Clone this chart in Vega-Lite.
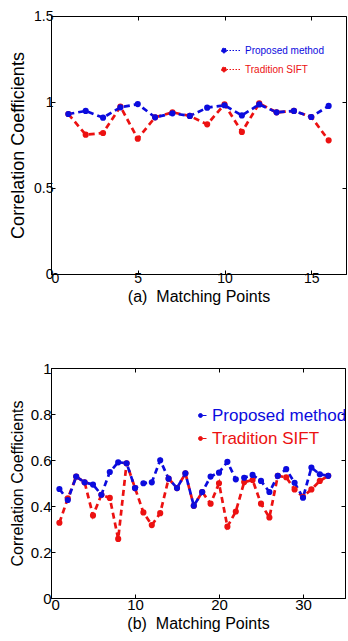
{
  "$schema": "https://vega.github.io/schema/vega-lite/v6.json",
  "padding": {"left": 8, "top": 8, "right": 0, "bottom": 0},
  "bounds": "flush",
  "spacing": 94,
  "config": {
    "font": "Liberation Sans",
    "view": {"stroke": "black", "strokeWidth": 1},
    "axis": {
      "grid": false,
      "domainColor": "black",
      "tickColor": "black",
      "labelColor": "black",
      "titleColor": "black",
      "labelFont": "Liberation Sans",
      "titleFont": "Liberation Sans",
      "titleFontWeight": "normal",
      "tickSize": -4,
      "labelPadding": 2,
      "titlePadding": 2
    }
  },
  "datasets": {
    "a": [
      {"x": 1, "v": 0.930, "series": "Tradition SIFT"},
      {"x": 2, "v": 0.810, "series": "Tradition SIFT"},
      {"x": 3, "v": 0.820, "series": "Tradition SIFT"},
      {"x": 4, "v": 0.973, "series": "Tradition SIFT"},
      {"x": 5, "v": 0.787, "series": "Tradition SIFT"},
      {"x": 6, "v": 0.911, "series": "Tradition SIFT"},
      {"x": 7, "v": 0.940, "series": "Tradition SIFT"},
      {"x": 8, "v": 0.919, "series": "Tradition SIFT"},
      {"x": 9, "v": 0.870, "series": "Tradition SIFT"},
      {"x": 10, "v": 0.986, "series": "Tradition SIFT"},
      {"x": 11, "v": 0.826, "series": "Tradition SIFT"},
      {"x": 12, "v": 0.992, "series": "Tradition SIFT"},
      {"x": 13, "v": 0.940, "series": "Tradition SIFT"},
      {"x": 14, "v": 0.948, "series": "Tradition SIFT"},
      {"x": 15, "v": 0.913, "series": "Tradition SIFT"},
      {"x": 16, "v": 0.777, "series": "Tradition SIFT"},
      {"x": 1, "v": 0.930, "series": "Proposed method"},
      {"x": 2, "v": 0.948, "series": "Proposed method"},
      {"x": 3, "v": 0.909, "series": "Proposed method"},
      {"x": 4, "v": 0.969, "series": "Proposed method"},
      {"x": 5, "v": 0.988, "series": "Proposed method"},
      {"x": 6, "v": 0.911, "series": "Proposed method"},
      {"x": 7, "v": 0.934, "series": "Proposed method"},
      {"x": 8, "v": 0.919, "series": "Proposed method"},
      {"x": 9, "v": 0.967, "series": "Proposed method"},
      {"x": 10, "v": 0.981, "series": "Proposed method"},
      {"x": 11, "v": 0.922, "series": "Proposed method"},
      {"x": 12, "v": 0.986, "series": "Proposed method"},
      {"x": 13, "v": 0.940, "series": "Proposed method"},
      {"x": 14, "v": 0.948, "series": "Proposed method"},
      {"x": 15, "v": 0.913, "series": "Proposed method"},
      {"x": 16, "v": 0.977, "series": "Proposed method"}
    ],
    "b": [
      {"x": 1, "v": 0.327, "series": "Tradition SIFT"},
      {"x": 2, "v": 0.433, "series": "Tradition SIFT"},
      {"x": 3, "v": 0.528, "series": "Tradition SIFT"},
      {"x": 4, "v": 0.503, "series": "Tradition SIFT"},
      {"x": 5, "v": 0.359, "series": "Tradition SIFT"},
      {"x": 6, "v": 0.449, "series": "Tradition SIFT"},
      {"x": 7, "v": 0.435, "series": "Tradition SIFT"},
      {"x": 8, "v": 0.257, "series": "Tradition SIFT"},
      {"x": 9, "v": 0.586, "series": "Tradition SIFT"},
      {"x": 10, "v": 0.478, "series": "Tradition SIFT"},
      {"x": 11, "v": 0.372, "series": "Tradition SIFT"},
      {"x": 12, "v": 0.317, "series": "Tradition SIFT"},
      {"x": 13, "v": 0.369, "series": "Tradition SIFT"},
      {"x": 14, "v": 0.519, "series": "Tradition SIFT"},
      {"x": 15, "v": 0.478, "series": "Tradition SIFT"},
      {"x": 16, "v": 0.542, "series": "Tradition SIFT"},
      {"x": 17, "v": 0.401, "series": "Tradition SIFT"},
      {"x": 18, "v": 0.461, "series": "Tradition SIFT"},
      {"x": 19, "v": 0.410, "series": "Tradition SIFT"},
      {"x": 20, "v": 0.499, "series": "Tradition SIFT"},
      {"x": 21, "v": 0.310, "series": "Tradition SIFT"},
      {"x": 22, "v": 0.376, "series": "Tradition SIFT"},
      {"x": 23, "v": 0.504, "series": "Tradition SIFT"},
      {"x": 24, "v": 0.513, "series": "Tradition SIFT"},
      {"x": 25, "v": 0.410, "series": "Tradition SIFT"},
      {"x": 26, "v": 0.350, "series": "Tradition SIFT"},
      {"x": 27, "v": 0.531, "series": "Tradition SIFT"},
      {"x": 28, "v": 0.525, "series": "Tradition SIFT"},
      {"x": 29, "v": 0.472, "series": "Tradition SIFT"},
      {"x": 30, "v": 0.440, "series": "Tradition SIFT"},
      {"x": 31, "v": 0.472, "series": "Tradition SIFT"},
      {"x": 32, "v": 0.509, "series": "Tradition SIFT"},
      {"x": 33, "v": 0.531, "series": "Tradition SIFT"},
      {"x": 1, "v": 0.474, "series": "Proposed method"},
      {"x": 2, "v": 0.426, "series": "Proposed method"},
      {"x": 3, "v": 0.528, "series": "Proposed method"},
      {"x": 4, "v": 0.503, "series": "Proposed method"},
      {"x": 5, "v": 0.493, "series": "Proposed method"},
      {"x": 6, "v": 0.449, "series": "Proposed method"},
      {"x": 7, "v": 0.548, "series": "Proposed method"},
      {"x": 8, "v": 0.590, "series": "Proposed method"},
      {"x": 9, "v": 0.586, "series": "Proposed method"},
      {"x": 10, "v": 0.478, "series": "Proposed method"},
      {"x": 11, "v": 0.499, "series": "Proposed method"},
      {"x": 12, "v": 0.503, "series": "Proposed method"},
      {"x": 13, "v": 0.599, "series": "Proposed method"},
      {"x": 14, "v": 0.519, "series": "Proposed method"},
      {"x": 15, "v": 0.478, "series": "Proposed method"},
      {"x": 16, "v": 0.542, "series": "Proposed method"},
      {"x": 17, "v": 0.401, "series": "Proposed method"},
      {"x": 18, "v": 0.461, "series": "Proposed method"},
      {"x": 19, "v": 0.528, "series": "Proposed method"},
      {"x": 20, "v": 0.545, "series": "Proposed method"},
      {"x": 21, "v": 0.592, "series": "Proposed method"},
      {"x": 22, "v": 0.516, "series": "Proposed method"},
      {"x": 23, "v": 0.523, "series": "Proposed method"},
      {"x": 24, "v": 0.535, "series": "Proposed method"},
      {"x": 25, "v": 0.509, "series": "Proposed method"},
      {"x": 26, "v": 0.461, "series": "Proposed method"},
      {"x": 27, "v": 0.531, "series": "Proposed method"},
      {"x": 28, "v": 0.560, "series": "Proposed method"},
      {"x": 29, "v": 0.501, "series": "Proposed method"},
      {"x": 30, "v": 0.436, "series": "Proposed method"},
      {"x": 31, "v": 0.567, "series": "Proposed method"},
      {"x": 32, "v": 0.538, "series": "Proposed method"},
      {"x": 33, "v": 0.531, "series": "Proposed method"}
    ]
  },
  "resolve": {"scale": {"color": "independent"}, "legend": {"color": "independent"}},
  "vconcat": [
    {
      "width": 295,
      "height": 258,
      "data": {"name": "a"},
      "encoding": {
        "color": {"field": "series", "type": "nominal", "scale": {"domain": ["Proposed method", "Tradition SIFT"], "range": ["#0b0bde", "#ec1111"]},
          "legend": {
            "title": null, "orient": "none", "legendX": 170, "legendY": 29, "padding": 0,
            "symbolType": "M-1,0A0.5,0.5 0 1,0 0,0A0.5,0.5 0 1,0 -1,0Z M0,0L3,0",
            "symbolSize": 100, "symbolStrokeWidth": 1, "symbolDash": [1.5, 1.5],
            "labelFontSize": 10, "labelOffset": 13, "rowPadding": 8, "labelFont": "Liberation Sans",
            "encode": {
              "labels": {"update": {"fill": {"signal": "datum.label == 'Proposed method' ? '#0b0bde' : '#ec1111'"}}},
              "symbols": {"update": {"fill": {"signal": "datum.label == 'Proposed method' ? '#0b0bde' : '#ec1111'"}, "stroke": {"signal": "datum.label == 'Proposed method' ? '#0b0bde' : '#ec1111'"}}}
            }
          }
        }
      },
      "layer": [
        {
          "mark": {"type": "line", "strokeDash": [6, 4], "strokeWidth": 2.7},
          "encoding": {
            "x": {"field": "x", "type": "quantitative", "scale": {"domain": [0, 17], "nice": false}, "axis": {"values": [0, 5, 10, 15], "title": "(a)\u00a0 Matching Points", "titleFontSize": 16, "labelFontSize": 14, "labelPadding": 1, "titlePadding": 3}},
            "y": {"field": "v", "type": "quantitative", "scale": {"domain": [0, 1.5], "nice": false}, "axis": {"values": [0, 0.5, 1, 1.5], "labelExpr": "'' + datum.value", "title": "Correlation Coefficients", "titleFontSize": 18, "labelFontSize": 14, "labelPadding": 2, "titlePadding": 6}}
          }
        },
        {
          "mark": {"type": "point", "filled": true, "size": 38, "opacity": 1},
          "encoding": {
            "x": {"field": "x", "type": "quantitative", "axis": null},
            "y": {"field": "v", "type": "quantitative", "axis": null}
          }
        },
        {
          "mark": {"type": "point", "opacity": 0},
          "encoding": {
            "color": {"value": "black"},
            "x": {"field": "x", "type": "quantitative", "axis": {"orient": "top", "values": [0, 5, 10, 15], "labels": false, "domain": false, "title": null}},
            "y": {"field": "v", "type": "quantitative", "axis": {"orient": "right", "values": [0, 0.5, 1, 1.5], "labels": false, "domain": false, "title": null}}
          }
        }
      ],
      "resolve": {"axis": {"x": "independent", "y": "independent"}}
    },
    {
      "width": 294,
      "height": 230,
      "data": {"name": "b"},
      "encoding": {
        "color": {"field": "series", "type": "nominal", "scale": {"domain": ["Proposed method", "Tradition SIFT"], "range": ["#0b0bde", "#ec1111"]},
          "legend": {
            "title": null, "orient": "none", "legendX": 143, "legendY": 39, "padding": 0,
            "symbolType": "M-1,0A0.5,0.5 0 1,0 0,0A0.5,0.5 0 1,0 -1,0Z M0,0L1,0",
            "symbolSize": 64, "symbolStrokeWidth": 1,
            "labelFontSize": 17, "labelOffset": 1, "rowPadding": 5, "labelFont": "Liberation Sans",
            "encode": {
              "labels": {"update": {"fill": {"signal": "datum.label == 'Proposed method' ? '#0b0bde' : '#ec1111'"}}},
              "symbols": {"update": {"fill": {"signal": "datum.label == 'Proposed method' ? '#0b0bde' : '#ec1111'"}, "stroke": {"signal": "datum.label == 'Proposed method' ? '#0b0bde' : '#ec1111'"}}}
            }
          }
        }
      },
      "layer": [
        {
          "mark": {"type": "line", "strokeDash": [6, 4], "strokeWidth": 2.7},
          "encoding": {
            "x": {"field": "x", "type": "quantitative", "scale": {"domain": [0, 35], "nice": false}, "axis": {"values": [0, 10, 20, 30], "title": "(b)\u00a0 Matching Points", "titleFontSize": 16, "labelFontSize": 15, "labelPadding": 3, "titlePadding": 3}},
            "y": {"field": "v", "type": "quantitative", "scale": {"domain": [0, 1], "nice": false}, "axis": {"values": [0, 0.2, 0.4, 0.6, 0.8, 1], "labelExpr": "'' + datum.value", "title": "Correlation Coefficients", "titleFontSize": 16, "labelFontSize": 15, "labelPadding": 4, "titlePadding": 5}}
          }
        },
        {
          "mark": {"type": "point", "filled": true, "size": 38, "opacity": 1},
          "encoding": {
            "x": {"field": "x", "type": "quantitative", "axis": null},
            "y": {"field": "v", "type": "quantitative", "axis": null}
          }
        },
        {
          "mark": {"type": "point", "opacity": 0},
          "encoding": {
            "color": {"value": "black"},
            "x": {"field": "x", "type": "quantitative", "axis": {"orient": "top", "values": [0, 10, 20, 30], "labels": false, "domain": false, "title": null}},
            "y": {"field": "v", "type": "quantitative", "axis": {"orient": "right", "values": [0, 0.2, 0.4, 0.6, 0.8, 1], "labels": false, "domain": false, "title": null}}
          }
        }
      ],
      "resolve": {"axis": {"x": "independent", "y": "independent"}}
    }
  ]
}
